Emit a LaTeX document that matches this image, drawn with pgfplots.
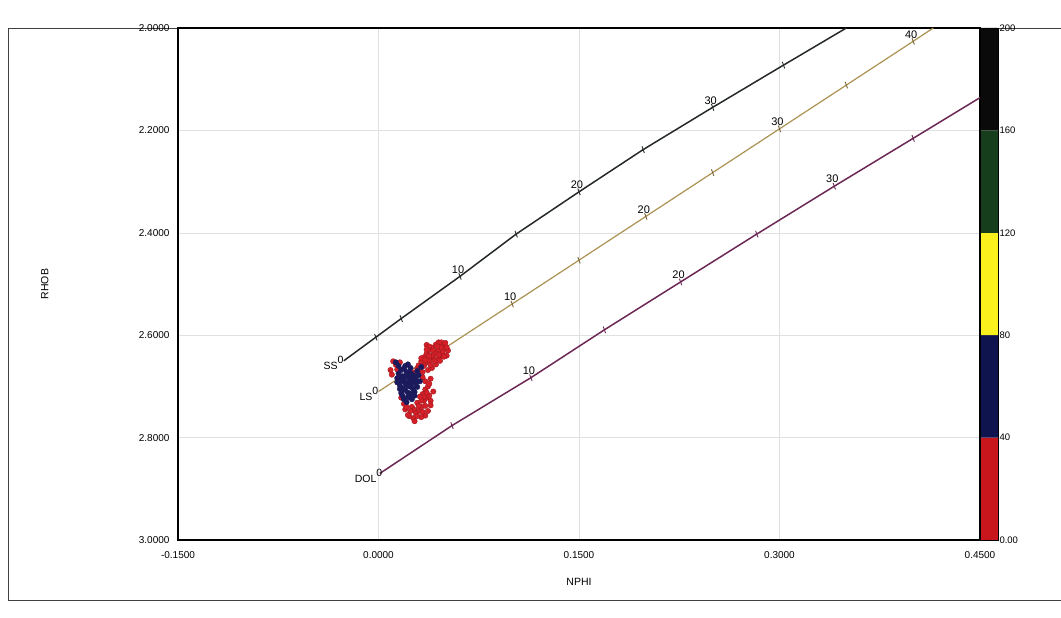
\documentclass[border=0pt]{standalone}
\usepackage{pgfplots}
\pgfplotsset{compat=1.18}
\usepackage{fontspec}
\setmainfont{Liberation Sans}
\definecolor{ssc}{RGB}{38,42,38}
\definecolor{lsc}{RGB}{172,146,82}
\definecolor{dolc}{RGB}{108,40,84}
\definecolor{cbred}{RGB}{200,22,28}
\definecolor{cbnavy}{RGB}{16,20,78}
\definecolor{cbyel}{RGB}{250,240,30}
\definecolor{cbgreen}{RGB}{22,62,28}
\definecolor{cbblack}{RGB}{10,10,10}
\definecolor{ptred}{RGB}{214,32,40}
\definecolor{ptnavy}{RGB}{26,26,92}
\begin{document}
\begin{tikzpicture}
\useasboundingbox (-178pt,-78pt) rectangle (883pt,540pt);
\draw[black!75, line width=0.9pt] (883pt,512pt) -- (-170pt,512pt) -- (-170pt,-60pt) -- (883pt,-60pt);
\begin{axis}[
  at={(0pt,0pt)}, anchor=south west,
  width=802pt, height=512pt, scale only axis,
  xmin=-0.15, xmax=0.45, ymin=2, ymax=3, y dir=reverse,
  xtick={-0.15,0,0.15,0.3,0.45},
  xticklabels={-0.1500,0.0000,0.1500,0.3000,0.4500},
  ytick={2,2.2,2.4,2.6,2.8,3},
  yticklabels={2.0000,2.2000,2.4000,2.6000,2.8000,3.0000},
  major tick length=0pt,
  grid=major, grid style={black!12, line width=0.6pt},
  axis line style={black, line width=1.1pt},
  tick label style={font=\fontsize{10}{12}\selectfont},
  xticklabel style={yshift=-8pt},
  yticklabel style={xshift=-5pt},
  xlabel={NPHI}, ylabel={RHOB},
  xlabel style={at={(axis description cs:0.5,0)}, anchor=center, yshift=-42pt, font=\fontsize{10.5}{12}\selectfont},
  ylabel style={at={(axis description cs:-0.166,0.5)}, anchor=center, font=\fontsize{10.5}{12}\selectfont},
  clip=false,
]
% Sandstone
\addplot[ssc, line width=1.5pt] coordinates {
(-0.026,2.650) (-0.002,2.604) (0.017,2.5675) (0.061,2.485) (0.103,2.4025) (0.150,2.320) (0.198,2.2375) (0.250,2.155) (0.303,2.0725) (0.350,2.000)};
\addplot[ssc, only marks, mark=|, mark size=3.5pt, mark options={rotate=20, line width=0.9pt}] coordinates {
(-0.002,2.604) (0.017,2.5675) (0.061,2.485) (0.103,2.4025) (0.150,2.320) (0.198,2.2375) (0.250,2.155) (0.303,2.0725)};
% Limestone
\addplot[lsc, line width=1.2pt] coordinates {
(0.000,2.710) (0.05,2.6245) (0.10,2.539) (0.15,2.4535) (0.20,2.368) (0.25,2.2825) (0.30,2.197) (0.35,2.1115) (0.40,2.026) (0.415,2.000)};
\addplot[lsc!70!black, only marks, mark=|, mark size=3.5pt, mark options={rotate=20, line width=0.9pt}] coordinates {
(0.05,2.6245) (0.10,2.539) (0.15,2.4535) (0.20,2.368) (0.25,2.2825) (0.30,2.197) (0.35,2.1115) (0.40,2.026)};
% Dolomite
\addplot[dolc, line width=1.5pt] coordinates {
(0.001,2.870) (0.055,2.7765) (0.114,2.683) (0.169,2.5895) (0.226,2.496) (0.283,2.4025) (0.341,2.309) (0.400,2.2155) (0.450,2.136)};
\addplot[dolc, only marks, mark=|, mark size=3.5pt, mark options={rotate=20, line width=0.9pt}] coordinates {
(0.055,2.7765) (0.114,2.683) (0.169,2.5895) (0.226,2.496) (0.283,2.4025) (0.341,2.309) (0.400,2.2155)};
% Porosity labels
\begin{scope}[every node/.style={font=\fontsize{11}{12}\selectfont, anchor=south, inner sep=0pt, yshift=3pt, xshift=-2pt}]
\node at (axis cs:0.061,2.485) {10};
\node at (axis cs:0.150,2.320) {20};
\node at (axis cs:0.250,2.155) {30};
\node at (axis cs:0.100,2.539) {10};
\node at (axis cs:0.200,2.368) {20};
\node at (axis cs:0.300,2.197) {30};
\node at (axis cs:0.400,2.026) {40};
\node at (axis cs:0.114,2.683) {10};
\node at (axis cs:0.226,2.496) {20};
\node at (axis cs:0.341,2.309) {30};
\end{scope}
\begin{scope}[every node/.style={font=\fontsize{10.5}{12}\selectfont, anchor=east, inner sep=0pt, yshift=-2pt}]
\node at (axis cs:-0.026,2.650) {SS\raisebox{6pt}{0}};
\node at (axis cs:0.000,2.710) {LS\raisebox{6pt}{0}};
\node at (axis cs:0.003,2.870) {DOL\raisebox{6pt}{0}};
\end{scope}
% Data points, value 0-40
\addplot[only marks, mark=*, mark size=2.7pt, mark options={fill=ptred, draw=ptred!75!black, line width=0.4pt}] coordinates {
(0.026,2.673) (0.029,2.665) (0.030,2.659) (0.032,2.651) (0.034,2.643) (0.036,2.636) (0.038,2.629) (0.040,2.624)
(0.043,2.618) (0.045,2.614) (0.047,2.614) (0.049,2.618) (0.050,2.615) (0.049,2.626) (0.048,2.633) (0.047,2.640)
(0.045,2.646) (0.046,2.650) (0.043,2.657) (0.040,2.664) (0.041,2.645) (0.036,2.619) (0.038,2.622) (0.052,2.630)
(0.051,2.640) (0.032,2.645) (0.035,2.655) (0.037,2.668) (0.033,2.672)
(0.041,2.630) (0.043,2.636) (0.045,2.628) (0.047,2.624) (0.044,2.622) (0.040,2.640) (0.042,2.650) (0.038,2.650)
(0.035,2.648) (0.038,2.640) (0.031,2.666) (0.034,2.660) (0.039,2.658) (0.045,2.638) (0.049,2.642) (0.051,2.624)
(0.036,2.628)
(0.011,2.651) (0.013,2.658) (0.014,2.667) (0.010,2.677) (0.009,2.668) (0.016,2.653)
(0.025,2.740) (0.027,2.746) (0.030,2.748) (0.032,2.740) (0.034,2.728) (0.036,2.722) (0.038,2.718) (0.039,2.728)
(0.039,2.737) (0.037,2.748) (0.035,2.757) (0.032,2.760) (0.026,2.762) (0.023,2.758) (0.022,2.756) (0.019,2.734)
(0.020,2.745) (0.029,2.732) (0.033,2.715) (0.035,2.706) (0.037,2.700) (0.017,2.722) (0.027,2.768) (0.041,2.710)
(0.030,2.738) (0.028,2.752) (0.033,2.750) (0.035,2.738) (0.032,2.728) (0.034,2.720) (0.024,2.748) (0.021,2.740)
(0.029,2.758) (0.036,2.712) (0.031,2.720)
(0.035,2.690) (0.038,2.695) (0.039,2.685) (0.033,2.682)};
% Data points, value 40-80
\addplot[only marks, mark=*, mark size=2.7pt, mark options={fill=ptnavy, draw=ptnavy, line width=0.4pt}] coordinates {
(0.013,2.653) (0.015,2.660) (0.017,2.668) (0.019,2.665) (0.021,2.672) (0.015,2.675) (0.015,2.684) (0.018,2.680)
(0.020,2.693) (0.023,2.688) (0.025,2.702) (0.026,2.686) (0.028,2.694) (0.030,2.678) (0.032,2.662) (0.029,2.670)
(0.017,2.713) (0.020,2.707) (0.022,2.721) (0.024,2.714) (0.027,2.711) (0.019,2.725) (0.021,2.731) (0.025,2.725)
(0.016,2.698) (0.018,2.703) (0.023,2.700) (0.025,2.676) (0.022,2.657) (0.024,2.664) (0.029,2.701) (0.031,2.690)
(0.017,2.690) (0.014,2.692)
(0.019,2.685) (0.021,2.697) (0.024,2.695) (0.026,2.705) (0.022,2.712) (0.018,2.718) (0.023,2.720) (0.027,2.718)
(0.021,2.680) (0.024,2.680) (0.027,2.680) (0.020,2.660) (0.023,2.672) (0.016,2.705) (0.014,2.684) (0.025,2.692)
(0.028,2.686)};
\end{axis}
% Colour scale
\begin{axis}[
  at={(802pt,0pt)}, anchor=south west,
  width=18pt, height=512pt, scale only axis,
  xmin=0, xmax=1, ymin=0, ymax=200,
  xtick=\empty,
  ytick={0,40,80,120,160,200},
  yticklabels={0.00,40,80,120,160,200},
  yticklabel pos=right,
  major tick length=0pt,
  axis line style={black, line width=0.6pt},
  tick label style={font=\fontsize{9.5}{11}\selectfont},
  yticklabel style={xshift=-2pt},
  axis on top,
]
\addplot[fill=cbred, draw=none] coordinates {(0,0) (1,0) (1,40) (0,40) (0,0)};
\addplot[fill=cbnavy, draw=none] coordinates {(0,40) (1,40) (1,80) (0,80) (0,40)};
\addplot[fill=cbyel, draw=none] coordinates {(0,80) (1,80) (1,120) (0,120) (0,80)};
\addplot[fill=cbgreen, draw=none] coordinates {(0,120) (1,120) (1,160) (0,160) (0,120)};
\addplot[fill=cbblack, draw=none] coordinates {(0,160) (1,160) (1,200) (0,200) (0,160)};
\end{axis}
\end{tikzpicture}
\end{document}
